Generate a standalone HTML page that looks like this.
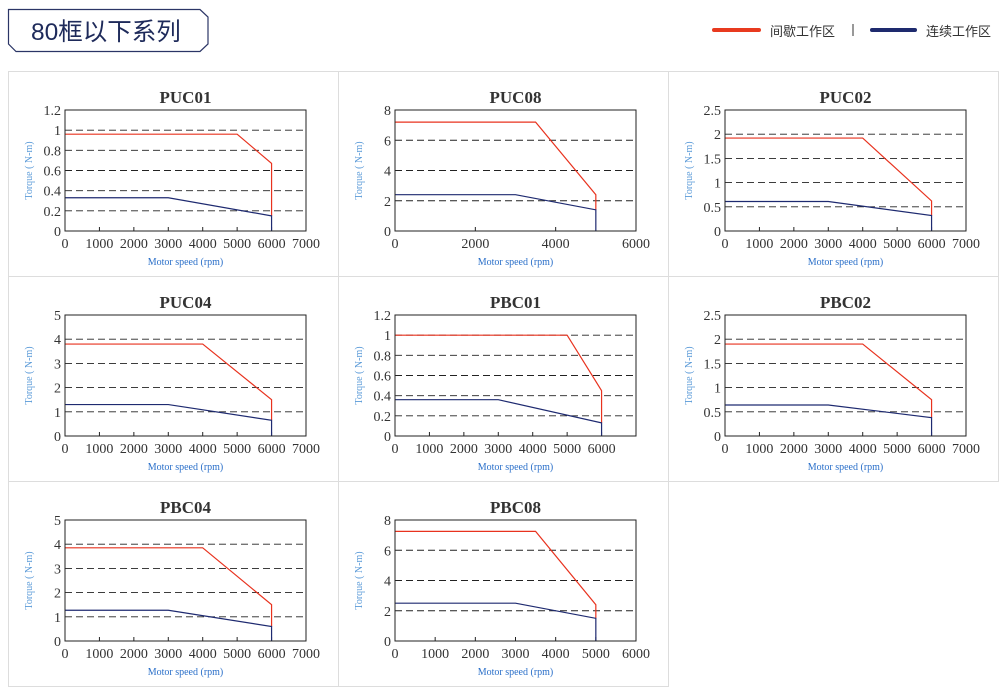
<!DOCTYPE html>
<html><head><meta charset="utf-8"><style>
body{margin:0;background:#fff;width:1006px;height:694px;overflow:hidden;font-family:"Liberation Sans","Noto Sans CJK SC",sans-serif}
</style></head><body>
<svg id="s" width="1006" height="694" xmlns="http://www.w3.org/2000/svg" style="position:absolute;left:0;top:0">
<polygon points="8.5,9.5 200,9.5 208,17 208,44 200,51.5 16,51.5 8.5,44" fill="#fff" stroke="#2b3566" stroke-width="1.2"/>
<text x="31" y="40" font-family="Liberation Sans,Noto Sans CJK SC,sans-serif" font-size="24.5" fill="#1e2a5a">80框以下系列</text>
<line x1="714" y1="30" x2="759" y2="30" stroke="#e83a1f" stroke-width="4" stroke-linecap="round"/>
<text x="770" y="36" font-family="Noto Sans CJK SC,sans-serif" font-size="13" fill="#333">间歇工作区</text>
<line x1="853" y1="24" x2="853" y2="36" stroke="#333" stroke-width="1"/>
<line x1="872" y1="30" x2="915" y2="30" stroke="#1e2a6e" stroke-width="4" stroke-linecap="round"/>
<text x="926" y="36" font-family="Noto Sans CJK SC,sans-serif" font-size="13" fill="#333">连续工作区</text>
</svg>
<script>
var s=document.getElementById('s');var h='';
var C=[
['PUC01',7000,1000,1.2,0.2,[[0,.96],[5000,.96],[6000,.67]],[[0,.33],[3000,.33],[6000,.15]],7000],
['PUC08',6000,2000,8,2,[[0,7.2],[3500,7.2],[5000,2.4]],[[0,2.4],[3000,2.4],[5000,1.4]],6000],
['PUC02',7000,1000,2.5,0.5,[[0,1.92],[4000,1.92],[6000,.62]],[[0,.61],[3000,.61],[6000,.32]],7000],
['PUC04',7000,1000,5,1,[[0,3.8],[4000,3.8],[6000,1.5]],[[0,1.3],[3000,1.3],[6000,.65]],7000],
['PBC01',7000,1000,1.2,0.2,[[0,1],[5000,1],[6000,.45]],[[0,.36],[3000,.36],[6000,.13]],6000],
['PBC02',7000,1000,2.5,0.5,[[0,1.9],[4000,1.9],[6000,.75]],[[0,.64],[3000,.64],[6000,.38]],7000],
['PBC04',7000,1000,5,1,[[0,3.85],[4000,3.85],[6000,1.5]],[[0,1.27],[3000,1.27],[6000,.6]],7000],
['PBC08',6000,1000,8,2,[[0,7.25],[3500,7.25],[5000,2.4]],[[0,2.5],[3000,2.5],[5000,1.5]],6000]];
h+='<rect x="8.5" y="71.5" width="990" height="410" fill="none" stroke="#ddd"/>';
h+='<line x1="338.5" y1="71" x2="338.5" y2="686" stroke="#ddd"/><line x1="668.5" y1="71" x2="668.5" y2="686" stroke="#ddd"/>';
h+='<line x1="8" y1="276.5" x2="998" y2="276.5" stroke="#ddd"/>';
h+='<rect x="8.5" y="481.5" width="660" height="205" fill="none" stroke="#ddd"/>';
C.forEach(function(c,i){
 var cx=8+330*(i%3),cy=71+205*Math.floor(i/3);
 var L=cx+57,T=cy+39,W=241,H=121,B=T+H;
 var X=function(v){return L+v/c[1]*W},Y=function(v){return B-v/c[3]*H};
 h+='<text x="'+(L+W/2)+'" y="'+(cy+32)+'" text-anchor="middle" font-family="Liberation Serif,serif" font-weight="bold" font-size="17" fill="#333">'+c[0]+'</text>';
 var n=Math.round(c[3]/c[4]);
 for(var k=0;k<=n;k++){var v=+(k*c[4]).toFixed(2),y=Y(v);
  if(k>0&&k<n)h+='<line x1="'+L+'" y1="'+y+'" x2="'+(L+W)+'" y2="'+y+'" stroke="#222" stroke-width="0.9" stroke-dasharray="7,4"/>';
  h+='<text x="'+(L-4)+'" y="'+(y+5)+'" text-anchor="end" font-family="Liberation Serif,serif" font-size="14" fill="#333">'+v+'</text>';}
 var m=Math.round(c[1]/c[2]);
 for(var k=0;k<=m;k++){var v=k*c[2],x=X(v);
  if(k>0&&k<m)h+='<line x1="'+x+'" y1="'+B+'" x2="'+x+'" y2="'+(B-4)+'" stroke="#222"/>';
  if(v<=c[7])h+='<text x="'+x+'" y="'+(B+17)+'" text-anchor="middle" font-family="Liberation Serif,serif" font-size="14" fill="#333">'+v+'</text>';}
 var r=c[5],b=c[6],bl=b[b.length-1];
 var pr=r.map(function(p){return X(p[0])+','+Y(p[1])}).join(' ')+' '+X(bl[0])+','+Y(bl[1]);
 var pb=b.map(function(p){return X(p[0])+','+Y(p[1])}).join(' ')+' '+X(bl[0])+','+B;
 h+='<polyline points="'+pr+'" fill="none" stroke="#e8321e" stroke-width="1.2"/>';
 h+='<polyline points="'+pb+'" fill="none" stroke="#1e2a70" stroke-width="1.2"/>';
 h+='<rect x="'+L+'" y="'+T+'" width="'+W+'" height="'+H+'" fill="none" stroke="#222" stroke-width="1"/>';
 h+='<text x="'+(L+W/2)+'" y="'+(B+34)+'" text-anchor="middle" font-family="Liberation Serif,serif" font-size="10" fill="#2a6fc9">Motor speed (rpm)</text>';
 h+='<text transform="translate('+(cx+24)+','+(T+H/2)+') rotate(-90)" text-anchor="middle" font-family="Liberation Serif,serif" font-size="10" fill="#5a9ad8">Torque ( N-m)</text>';
});
s.insertAdjacentHTML('beforeend',h);
</script>
</body></html>
